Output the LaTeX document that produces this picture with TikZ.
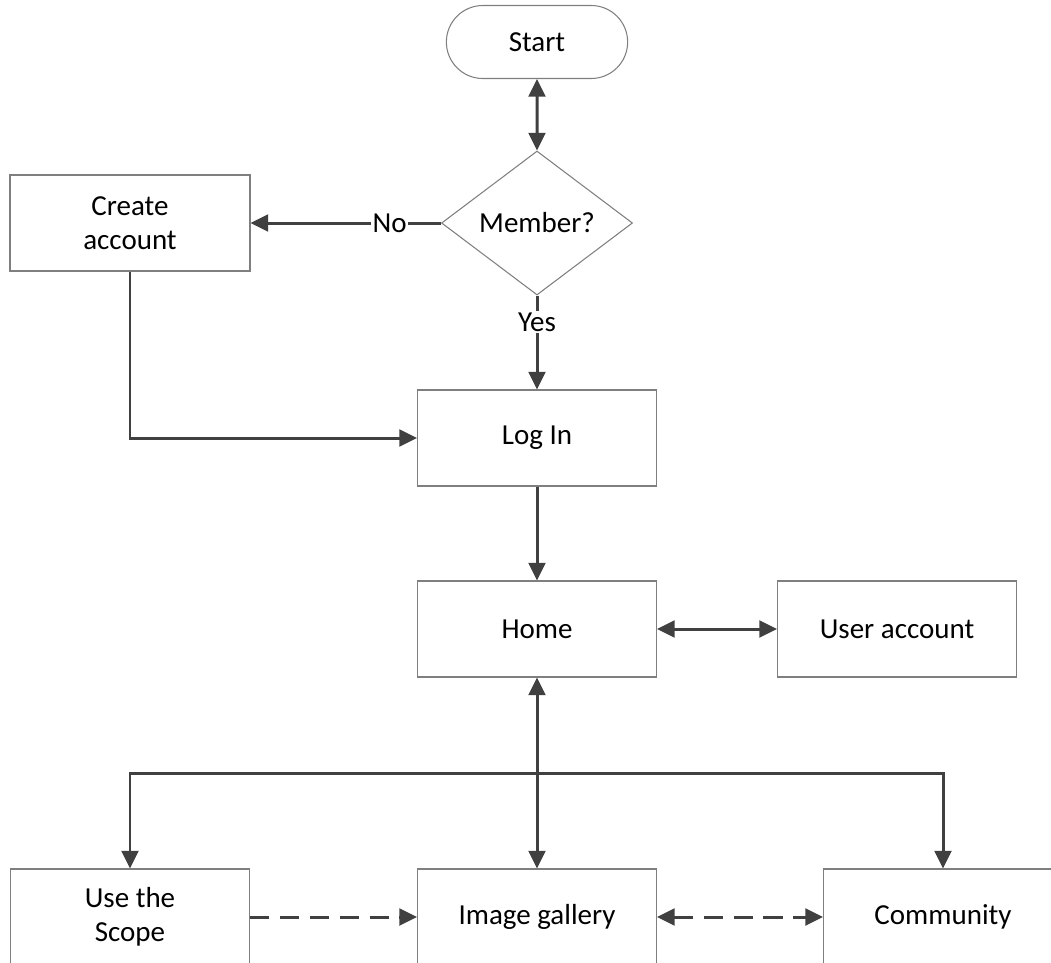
\documentclass[tikz,border=0pt]{standalone}
\usepackage{fontspec}
\setmainfont{Carlito}
\usetikzlibrary{arrows.meta, shapes.geometric, shapes.misc}
\definecolor{linkgray}{HTML}{404040}
\definecolor{framegray}{HTML}{7F7F7F}

\begin{document}
\begin{tikzpicture}[
  box/.style={rectangle, draw=framegray, line width=0.6pt, minimum width=4.78cm,
              minimum height=1.92cm, align=center, font=\fontsize{16.5}{19.5}\selectfont},
  terminal/.style={rounded rectangle, draw=framegray, line width=0.6pt,
                   minimum width=3.86cm, minimum height=1.46cm, font=\fontsize{16.5}{19.5}\selectfont},
  decision/.style={diamond, draw=framegray, line width=0.6pt, inner sep=0pt,
                   minimum width=3.82cm, minimum height=2.88cm, font=\fontsize{16.5}{19.5}\selectfont},
  link/.style={draw=linkgray, line width=1.7pt,
               arrows={-Triangle[length=10pt, width=9.5pt]}},
  twoway/.style={link, arrows={Triangle[length=10pt, width=9.5pt]-Triangle[length=10pt, width=9.5pt]}},
  dashlink/.style={dash pattern=on 11pt off 6pt},
  tag/.style={fill=white, inner sep=1pt, font=\fontsize{16.5}{19.5}\selectfont},
]

\useasboundingbox (0,0) rectangle (21.02,-19.24);
\clip (0,0) rectangle (21.02,-19.24);

\node[terminal] (start) at (10.74, -0.84) {Start};
\node[decision] (member) at (10.74, -4.46) {Member?};
\node[box, minimum width=4.8cm] (create) at (2.60, -4.46) {Create\\account};
\node[box] (login) at (10.74, -8.76) {Log In};
\node[box] (home) at (10.74, -12.58) {Home};
\node[box] (user) at (17.94, -12.58) {User account};
\node[box] (scope) at (2.60, -18.34) {Use the\\Scope};
\node[box] (gallery) at (10.74, -18.34) {Image gallery};
\node[box] (community) at (18.86, -18.34) {Community};

\coordinate (split) at (10.74, -15.46);

\draw[twoway] (start) -- (member);
\draw[link] (member.west) -- node[tag, pos=0.27] {No} (create.east);
\draw[link] (member.south) -- node[tag, pos=0.28] {Yes} (login.north);
\draw[link] (create.south) |- (login.west);
\draw[link] (login) -- (home);
\draw[twoway] (home) -- (user);
\draw[twoway] (home) -- (gallery);
\draw[link] (split) -| (scope.north);
\draw[link] (split) -| (community.north);
\draw[link, dashlink] (scope) -- (gallery);
\draw[twoway, dashlink] (gallery) -- (community);

\end{tikzpicture}
\end{document}
